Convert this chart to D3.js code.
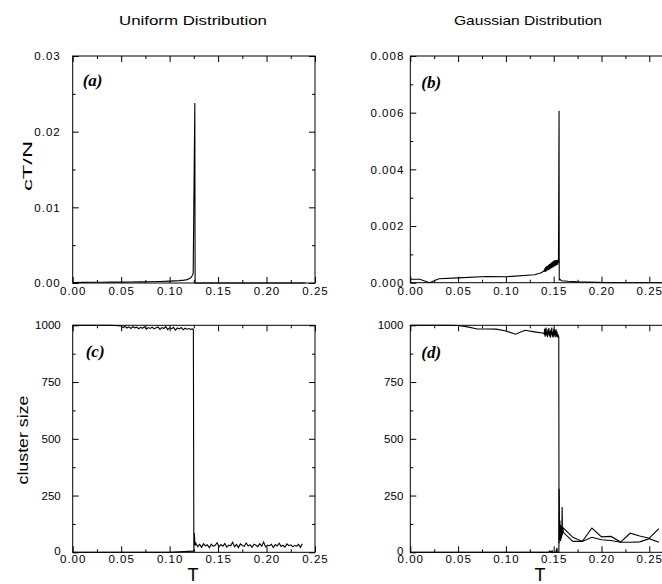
<!DOCTYPE html>
<html><head><meta charset="utf-8">
<script src="https://cdn.jsdelivr.net/npm/d3@7"></script>
<style>body{margin:0;background:#fff}svg{display:block}text{fill:#000}</style>
</head><body><svg id="c" width="662" height="584"></svg>
<script>
// ---------- data ----------
const columnTitles = ["Uniform Distribution", "Gaussian Distribution"];
const yLabels = ["cT/N", "cluster size"];
const xLabel = "T";
const panelLabels = ["(a)", "(b)", "(c)", "(d)"];

const xMajor = [0, 0.05, 0.10, 0.15, 0.20, 0.25];
const xMinor = [0.025, 0.075, 0.125, 0.175, 0.225];
const yMajorA = [0, 0.01, 0.02, 0.03];
const yMinorA = [0.005, 0.015, 0.025];
const yMajorB = [0, 0.002, 0.004, 0.006, 0.008];
const yMinorB = [0.001, 0.003, 0.005, 0.007];
const yMajorC = [0, 250, 500, 750, 1000];
const yMinorC = [125, 375, 625, 875];

// (a) specific heat, uniform
const aT = [0, 0.01, 0.02, 0.03, 0.04, 0.05, 0.06, 0.07, 0.08, 0.09, 0.10, 0.105, 0.11, 0.115, 0.118,
  0.120, 0.1215, 0.1225, 0.1232, 0.1238, 0.1243, 0.1260, 0.1263, 0.13, 0.16, 0.20, 0.24];
const aV = [0.00007, 0.00008, 0.00009, 0.0001, 0.00011, 0.00012, 0.00013, 0.00015, 0.00017, 0.0002,
  0.00025, 0.00028, 0.00032, 0.00038, 0.00045, 0.00055, 0.00065, 0.0008, 0.00095, 0.0011,
  0.0013, 0.0238, 0, 0, 0, 0, 0];

// (b) specific heat, gaussian
const bT = [0, 0.01, 0.02, 0.03, 0.05, 0.08, 0.10, 0.13, 0.137,
  0.1400, 0.1405, 0.1410, 0.1415, 0.1420, 0.1425, 0.1430, 0.1435, 0.1440, 0.1445,
  0.1450, 0.1455, 0.1460, 0.1465, 0.1470, 0.1475, 0.1480, 0.1485, 0.1490, 0.1495,
  0.1500, 0.1505, 0.1510, 0.1515, 0.1520, 0.1525, 0.1530, 0.1535, 0.1540, 0.1545, 0.1550,
  0.1556, 0.1558, 0.1565, 0.158, 0.165, 0.175, 0.185, 0.195, 0.21, 0.265];
const bV = [0.00012, 0.00012, 0.0, 0.00014, 0.00017, 0.00022, 0.00021, 0.00028, 0.00035,
  0.00042, 0.00050, 0.00038, 0.00055, 0.00040, 0.00058, 0.00043, 0.00060, 0.00044, 0.00062,
  0.00046, 0.00066, 0.00048, 0.00068, 0.00050, 0.00071, 0.00052, 0.00073, 0.00054, 0.00076,
  0.00056, 0.00078, 0.00058, 0.00080, 0.00060, 0.00079, 0.00062, 0.00081, 0.00064, 0.00078, 0.00070,
  0.00607, 0.0001, 0.00012, 0.00007, 0.00005, 0.00003, 0.00002, 0.00001, 0, 0];

// (c) cluster size, uniform
const cUT = [0, 0.01, 0.02, 0.03, 0.04,
  0.050, 0.052, 0.054, 0.056, 0.058, 0.060, 0.062, 0.064, 0.066, 0.068,
  0.070, 0.072, 0.074, 0.076, 0.078, 0.080, 0.082, 0.084, 0.086, 0.088,
  0.090, 0.092, 0.094, 0.096, 0.098, 0.100, 0.102, 0.104, 0.106, 0.108,
  0.110, 0.112, 0.114, 0.116, 0.118, 0.120, 0.122, 0.124,
  0.1245, 0.1250, 0.1255, 0.1260, 0.1265,
  0.127, 0.129, 0.131, 0.133, 0.135, 0.137, 0.139, 0.141, 0.143, 0.145,
  0.147, 0.149, 0.151, 0.153, 0.155, 0.157, 0.159, 0.161, 0.163, 0.165,
  0.167, 0.169, 0.171, 0.173, 0.175, 0.177, 0.179, 0.181, 0.183, 0.185,
  0.187, 0.189, 0.191, 0.193, 0.195, 0.197, 0.199, 0.201, 0.203, 0.205,
  0.207, 0.209, 0.211, 0.213, 0.215, 0.217, 0.219, 0.221, 0.223, 0.225,
  0.227, 0.229, 0.231, 0.233, 0.235, 0.237];
const cUV = [1000, 1000, 1000, 1000, 1000,
  997, 990, 995, 988, 993, 986, 994, 989, 992, 985,
  991, 987, 994, 983, 990, 986, 992, 984, 989, 993,
  982, 990, 986, 994, 981, 989, 985, 991, 979, 988,
  984, 990, 980, 987, 983, 986, 982, 984,
  982, 5, 85, 45, 30,
  40, 25, 35, 22, 38, 28, 33, 20, 36, 26,
  31, 42, 24, 34, 27, 39, 23, 32, 29, 44,
  25, 35, 21, 37, 30, 26, 41, 28, 33, 22,
  36, 31, 25, 38, 27, 45, 24, 32, 29, 35,
  21, 34, 28, 40, 26, 31, 23, 37, 29, 33,
  25, 30, 27, 35, 22, 38];
const cLT = [0, 0.05, 0.10, 0.1250];
const cLV = [0, 0, 0, 5];

// (d) cluster size, gaussian
const dUT = [0, 0.01, 0.02, 0.03, 0.04, 0.05, 0.06, 0.07, 0.08, 0.09, 0.10, 0.11, 0.12, 0.13, 0.1395,
  0.1400, 0.1405, 0.1410, 0.1415, 0.1420, 0.1425, 0.1430, 0.1435, 0.1440, 0.1445,
  0.1450, 0.1455, 0.1460, 0.1465, 0.1470, 0.1475, 0.1480, 0.1485, 0.1490, 0.1495,
  0.1500, 0.1505, 0.1510, 0.1515, 0.1520, 0.1525, 0.1530, 0.1535, 0.1540, 0.1545, 0.1550,
  0.1553, 0.1556, 0.1560, 0.1564, 0.1568, 0.1572, 0.1576, 0.1580,
  0.16, 0.17, 0.18, 0.19, 0.20, 0.21, 0.22, 0.23, 0.24, 0.25, 0.26];
const dUV = [1000, 1000, 1000, 1000, 1000, 999, 993, 984, 984, 983, 975, 961, 978, 971, 965,
  962, 985, 950, 978, 990, 955, 972, 948, 983, 960,
  988, 952, 975, 945, 980, 958, 990, 950, 970, 946,
  985, 955, 978, 948, 968, 982, 950, 972, 947, 960, 952,
  950, 40, 130, 55, 120, 50, 110, 62,
  108, 66, 48, 107, 68, 70, 45, 84, 72, 62, 104];
const dLT = [0, 0.05, 0.10, 0.14, 0.145, 0.1455, 0.148, 0.1483, 0.1486, 0.150,
  0.1525, 0.1528, 0.1531, 0.1534, 0.1537, 0.1554, 0.1557, 0.1561, 0.1565, 0.1569,
  0.1573, 0.1577, 0.1581, 0.1585, 0.1588, 0.1592, 0.1596,
  0.16, 0.17, 0.18, 0.19, 0.20, 0.21, 0.22, 0.23, 0.24, 0.25, 0.26];
const dLV = [0, 0, 0, 0, 0, 6, 0, 10, 0, 0,
  0, 14, 0, 20, 0, 0, 280, 70, 140, 55,
  120, 60, 95, 75, 200, 80, 100,
  88, 48, 48, 66, 55, 52, 44, 44, 46, 60, 44];

// ---------- drawing ----------
const svg = d3.select("#c");
const SANS = "'Liberation Sans', Arial, Helvetica, sans-serif";
const SERIF = "'Liberation Serif', 'Times New Roman', serif";
const fmt2 = d3.format(".2f"), fmt3 = d3.format(".3f"), fmt0 = d3.format("d");

function panel(p) {
  const x = d3.scaleLinear().domain(p.xDomain).range([p.left, p.right]);
  const y = d3.scaleLinear().domain(p.yDomain).range([p.bottom, p.top]);
  const g = svg.append("g");

  function axis(gen, transform, vals, size, fmt, pad) {
    const a = gen.tickValues(vals).tickSize(size).tickSizeOuter(0).tickPadding(pad || 3)
      .tickFormat(fmt || (() => ""));
    const ag = g.append("g").attr("transform", transform).call(a);
    ag.select(".domain").remove();
    ag.selectAll("line").attr("stroke", "#000").attr("stroke-width", 1);
    return ag;
  }
  const bx = axis(d3.axisBottom(x), `translate(0,${p.bottom})`, xMajor, -6, fmt2, p.xPad);
  axis(d3.axisBottom(x), `translate(0,${p.bottom})`, xMinor, -3);
  axis(d3.axisTop(x), `translate(0,${p.top})`, xMajor, -6);
  axis(d3.axisTop(x), `translate(0,${p.top})`, xMinor, -3);
  const ly = axis(d3.axisLeft(y), `translate(${p.left},0)`, p.yMajor, -6, p.yFmt, p.yPad);
  axis(d3.axisLeft(y), `translate(${p.left},0)`, p.yMinor, -3);
  if (p.rightVisible) {
    axis(d3.axisRight(y), `translate(${p.right},0)`, p.yMajor, -6);
    axis(d3.axisRight(y), `translate(${p.right},0)`, p.yMinor, -3);
  }
  bx.selectAll("text").style("font-family", SANS).style("font-size", "11.5px")
    .style("letter-spacing", "1px").attr("fill", "#000");
  ly.selectAll("text").style("font-family", SANS).style("font-size", "11.5px")
    .style("letter-spacing", p.yDecimal ? "1px" : "0px").attr("fill", "#000");
  // the lowest y label sits a touch higher so it clears the x labels
  ly.selectAll(".tick").filter(d => d === p.yDomain[0]).select("text").attr("y", -p.zeroLift);

  g.append("rect").attr("x", p.left).attr("y", p.top)
    .attr("width", p.right - p.left).attr("height", p.bottom - p.top)
    .attr("fill", "none").attr("stroke", "#000").attr("stroke-width", 1);

  const line = d3.line().x(d => x(d[0])).y(d => y(d[1]));
  p.series.forEach(s => {
    g.append("path").datum(d3.zip(s[0], s[1])).attr("d", line)
      .attr("fill", "none").attr("stroke", "#000").attr("stroke-width", 1.1);
  });
  g.append("text").attr("x", p.left + p.labelDx).attr("y", p.top + p.labelDy)
    .style("font-family", SERIF).style("font-style", "italic").style("font-weight", "bold")
    .style("font-size", "17px").text(p.label);
}

const L1 = 72.7, R1 = 315, L2 = 410.3, R2 = 410.3 + 0.27 * 956;
const T1 = 56, B1 = 283, T2 = 325.3, B2 = 552.3;

panel({left: L1, right: R1, top: T1, bottom: B1, xDomain: [0, 0.25], yDomain: [0, 0.03],
  yMajor: yMajorA, yMinor: yMinorA, yFmt: fmt2, yDecimal: true, yPad: 12, xPad: 4, zeroLift: 0,
  rightVisible: true, series: [[aT, aV]], label: panelLabels[0], labelDx: 10, labelDy: 30});
panel({left: L2, right: R2, top: T1, bottom: B1 - 0.3, xDomain: [0, 0.27], yDomain: [0, 0.008],
  yMajor: yMajorB, yMinor: yMinorB, yFmt: fmt3, yDecimal: true, yPad: 6, xPad: 4, zeroLift: 0,
  rightVisible: false, series: [[bT, bV]], label: panelLabels[1], labelDx: 11, labelDy: 32});
panel({left: L1, right: R1, top: T2, bottom: B2, xDomain: [0, 0.25], yDomain: [0, 1000],
  yMajor: yMajorC, yMinor: yMinorC, yFmt: fmt0, yDecimal: false, yPad: 12, xPad: 3, zeroLift: 1.5,
  rightVisible: true, series: [[cLT, cLV], [cUT, cUV]], label: panelLabels[2], labelDx: 13, labelDy: 32});
panel({left: L2, right: R2, top: T2, bottom: B2, xDomain: [0, 0.27], yDomain: [0, 1000],
  yMajor: yMajorC, yMinor: yMinorC, yFmt: fmt0, yDecimal: false, yPad: 7, xPad: 3, zeroLift: 1.5,
  rightVisible: false, series: [[dLT, dLV], [dUT, dUV]], label: panelLabels[3], labelDx: 11, labelDy: 33});

// column titles
[[193, columnTitles[0]], [528, columnTitles[1]]].forEach(([cx, t]) => {
  svg.append("text").attr("x", cx).attr("y", 25).attr("text-anchor", "middle")
    .style("font-family", SANS).style("font-size", "13.5px")
    .attr("textLength", 148).attr("lengthAdjust", "spacingAndGlyphs").text(t);
});
// y axis titles
svg.append("text").attr("transform", "translate(31.5,166) rotate(-90)").attr("text-anchor", "middle")
  .style("font-family", SANS).style("font-size", "13px")
  .attr("textLength", 50).attr("lengthAdjust", "spacingAndGlyphs").text(yLabels[0]);
svg.append("text").attr("transform", "translate(27.5,440) rotate(-90)").attr("text-anchor", "middle")
  .style("font-family", SANS).style("font-size", "15px")
  .attr("textLength", 89).attr("lengthAdjust", "spacingAndGlyphs").text(yLabels[1]);
// x axis titles
[193, 540].forEach(cx => {
  svg.append("text").attr("x", cx).attr("y", 581).attr("text-anchor", "middle")
    .style("font-family", SANS).style("font-size", "18px").text(xLabel);
});
</script></body></html>
